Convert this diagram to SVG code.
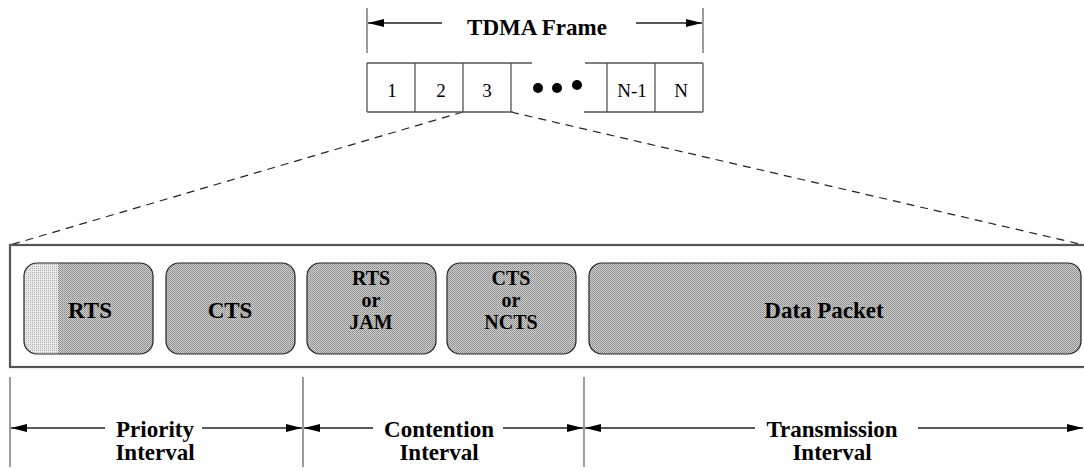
<svg xmlns="http://www.w3.org/2000/svg" width="1084" height="471" viewBox="0 0 1084 471">
  <style>
    .ln { stroke: #222; stroke-width: 1.3; fill: none; }
    .tick { stroke: #666; stroke-width: 1.3; fill: none; }
    .cell { stroke: #555; stroke-width: 1.3; fill: none; }
    .dash { stroke: #222; stroke-width: 1.2; stroke-dasharray: 8 6; fill: none; }
    .frame { stroke: #555; stroke-width: 2.2; fill: #fff; }
    .box { stroke: #222; stroke-width: 1.2; fill: url(#dots); }
    .lbl { font-family: "Liberation Serif", "Times New Roman", serif; font-weight: bold; font-size: 23px; fill: #000; text-anchor: middle; }
    .stk { font-size: 20px; }
    .num { font-family: "Liberation Serif", "Times New Roman", serif; font-size: 19px; fill: #000; text-anchor: middle; }
  </style>
  <defs>
    <pattern id="dots" width="2" height="2" patternUnits="userSpaceOnUse">
      <rect width="2" height="2" fill="#cccccc"/>
      <rect width="1" height="1" fill="#8c8c8c"/>
      <rect x="1" y="1" width="1" height="1" fill="#9c9c9c"/>
    </pattern>
    <pattern id="dotsLight" width="2" height="2" patternUnits="userSpaceOnUse">
      <rect width="2" height="2" fill="#e8e8e8"/>
      <rect width="1" height="1" fill="#b4b4b4"/>
    </pattern>
    <clipPath id="rtsClip">
      <rect x="24" y="263" width="129" height="91" rx="13"/>
    </clipPath>
    <marker id="arrBig" viewBox="0 0 16 8" refX="16" refY="4" markerWidth="16" markerHeight="8" markerUnits="userSpaceOnUse" orient="auto">
      <path d="M0,0 L16,4 L0,8 Z" fill="#000"/>
    </marker>
  </defs>

  <!-- zoom-out dashed guides from slot 3 to the expanded slot -->
  <g id="connectors">
    <line class="dash" x1="463" y1="112" x2="10" y2="245"/>
    <line class="dash" x1="511" y1="112" x2="1084" y2="245"/>
  </g>

  <!-- TDMA frame span -->
  <g id="tdma-frame">
    <line class="tick" x1="367" y1="8" x2="367" y2="53"/>
    <line class="tick" x1="703" y1="8" x2="703" y2="53"/>
    <line class="ln" x1="442" y1="23" x2="368" y2="23" marker-end="url(#arrBig)"/>
    <line class="ln" x1="636" y1="23" x2="702" y2="23" marker-end="url(#arrBig)"/>
    <text class="lbl" x="537" y="35">TDMA Frame</text>
  </g>

  <!-- slot row -->
  <g id="slots">
    <path class="cell" d="M367,63 H532 M585,63 H703 M367,112 H513 M584,112 H703"/>
    <path class="cell" d="M367,63 V112 M415,63 V112 M463,63 V112 M511,63 V112 M607,63 V112 M655,63 V112 M703,63 V112"/>
    <text class="num" x="392" y="97">1</text>
    <text class="num" x="441" y="97">2</text>
    <text class="num" x="487" y="97">3</text>
    <circle cx="538" cy="88" r="5" fill="#000"/>
    <circle cx="557" cy="88" r="5" fill="#000"/>
    <circle cx="577" cy="85" r="5" fill="#000"/>
    <text class="num" x="632" y="97">N-1</text>
    <text class="num" x="681" y="97">N</text>
  </g>

  <!-- expanded slot -->
  <g id="slot-frame">
    <rect class="frame" x="10" y="245" width="1090" height="122"/>
  </g>

  <g id="rts">
    <rect x="24" y="263" width="129" height="91" rx="13" fill="url(#dots)"/>
    <rect x="24" y="263" width="34" height="91" fill="url(#dotsLight)" clip-path="url(#rtsClip)"/>
    <rect x="24" y="263" width="129" height="91" rx="13" fill="none" stroke="#222" stroke-width="1.2"/>
    <text class="lbl" x="90" y="318">RTS</text>
  </g>
  <g id="cts">
    <rect class="box" x="166" y="263" width="129" height="91" rx="13"/>
    <text class="lbl" x="230" y="318">CTS</text>
  </g>
  <g id="rts-or-jam">
    <rect class="box" x="307" y="263" width="129" height="91" rx="13"/>
    <text class="lbl stk" x="371" y="285">RTS</text>
    <text class="lbl stk" x="371" y="307">or</text>
    <text class="lbl stk" x="371" y="329">JAM</text>
  </g>
  <g id="cts-or-ncts">
    <rect class="box" x="447" y="263" width="129" height="91" rx="13"/>
    <text class="lbl stk" x="511" y="285">CTS</text>
    <text class="lbl stk" x="511" y="307">or</text>
    <text class="lbl stk" x="511" y="329">NCTS</text>
  </g>
  <g id="data-packet">
    <rect class="box" x="589" y="263" width="492" height="91" rx="13"/>
    <text class="lbl" x="824" y="318">Data Packet</text>
  </g>

  <!-- interval spans -->
  <g id="intervals">
    <line class="tick" x1="10" y1="377" x2="10" y2="467"/>
    <line class="tick" x1="303" y1="377" x2="303" y2="467"/>
    <line class="tick" x1="584" y1="377" x2="584" y2="467"/>
  </g>
  <g id="priority-interval">
    <line class="ln" x1="105" y1="428" x2="11" y2="428" marker-end="url(#arrBig)"/>
    <line class="ln" x1="202" y1="428" x2="302" y2="428" marker-end="url(#arrBig)"/>
    <text class="lbl" x="155" y="437">Priority</text>
    <text class="lbl" x="155" y="460">Interval</text>
  </g>
  <g id="contention-interval">
    <line class="ln" x1="373" y1="428" x2="304" y2="428" marker-end="url(#arrBig)"/>
    <line class="ln" x1="503" y1="428" x2="583" y2="428" marker-end="url(#arrBig)"/>
    <text class="lbl" x="439" y="437">Contention</text>
    <text class="lbl" x="439" y="460">Interval</text>
  </g>
  <g id="transmission-interval">
    <line class="ln" x1="755" y1="428" x2="585" y2="428" marker-end="url(#arrBig)"/>
    <line class="ln" x1="918" y1="428" x2="1083" y2="428" marker-end="url(#arrBig)"/>
    <text class="lbl" x="832" y="437">Transmission</text>
    <text class="lbl" x="832" y="460">Interval</text>
  </g>
</svg>
